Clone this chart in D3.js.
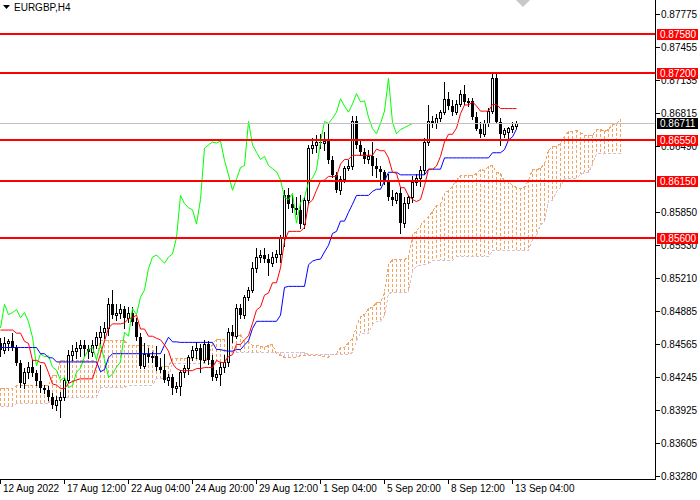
<!DOCTYPE html>
<html><head><meta charset="utf-8">
<script src="https://cdn.jsdelivr.net/npm/d3@7"></script>
<style>
body{margin:0;background:#fff}
svg{display:block}
text{font-family:"Liberation Sans",Arial,sans-serif;font-size:10px}
</style>
</head><body>
<svg id="c" width="700" height="500"></svg>
<script>
// ---------------- DATA (EURGBP, H4) ----------------
const symbol = "EURGBP,H4";
const open = [0.8457,0.8451,0.8457,0.8459,0.8453,0.8438,0.8418,0.8429,0.8434,0.8428,
0.8420,0.8414,0.8412,0.8405,0.8397,0.8402,0.8405,0.8421,0.8446,0.8450,
0.8453,0.8455,0.8452,0.8449,0.8455,0.8463,0.8468,0.8472,0.8495,0.8485,
0.8487,0.8490,0.8482,0.8487,0.8478,0.8463,0.8435,0.8447,0.8444,0.8445,
0.8434,0.8431,0.8421,0.8424,0.8414,0.8416,0.8429,0.8433,0.8444,0.8451,
0.8453,0.8441,0.8456,0.8441,0.8424,0.8427,0.8434,0.8439,0.8468,0.8464,
0.8491,0.8485,0.8502,0.8509,0.8530,0.8541,0.8543,0.8539,0.8535,0.8541,
0.8544,0.8560,0.8601,0.8593,0.8589,0.8587,0.8573,0.8597,0.8647,0.8650,
0.8653,0.8652,0.8654,0.8635,0.8621,0.8606,0.8617,0.8628,0.8630,0.8673,
0.8650,0.8643,0.8636,0.8639,0.8630,0.8627,0.8624,0.8616,0.8599,0.8597,
0.8603,0.8574,0.8594,0.8599,0.8614,0.8618,0.8626,0.8653,0.8673,0.8671,
0.8676,0.8682,0.8695,0.8688,0.8682,0.8690,0.8700,0.8692,0.8693,0.8677,
0.8666,0.8661,0.8671,0.8683,0.8715,0.8672,0.8661,0.8663,0.8666,0.8669];
const high = [0.8462,0.8463,0.8461,0.8467,0.8455,0.8441,0.8433,0.8439,0.8441,0.8431,
0.8436,0.8417,0.8416,0.8409,0.8406,0.8410,0.8423,0.8451,0.8455,0.8458,
0.8460,0.8460,0.8455,0.8460,0.8468,0.8474,0.8478,0.8501,0.8509,0.8495,
0.8495,0.8493,0.8492,0.8492,0.8482,0.8467,0.8457,0.8453,0.8449,0.8454,
0.8443,0.8447,0.8427,0.8427,0.8419,0.8431,0.8436,0.8446,0.8454,0.8458,
0.8456,0.8460,0.8459,0.8446,0.8431,0.8439,0.8446,0.8472,0.8475,0.8495,
0.8495,0.8504,0.8512,0.8536,0.8550,0.8548,0.8550,0.8544,0.8546,0.8548,
0.8562,0.8606,0.8608,0.8601,0.8599,0.8601,0.8599,0.8650,0.8657,0.8660,
0.8661,0.8663,0.8670,0.8639,0.8624,0.8620,0.8630,0.8635,0.8678,0.8678,
0.8655,0.8647,0.8645,0.8653,0.8637,0.8630,0.8626,0.8622,0.8606,0.8604,
0.8609,0.8599,0.8601,0.8620,0.8622,0.8630,0.8657,0.8689,0.8678,0.8680,
0.8684,0.8711,0.8702,0.8694,0.8694,0.8704,0.8708,0.8696,0.8696,0.8682,
0.8672,0.8674,0.8686,0.8721,0.8719,0.8676,0.8667,0.8668,0.8672,0.8673];
const low = [0.8445,0.8448,0.8451,0.8451,0.8436,0.8415,0.8414,0.8423,0.8425,0.8417,
0.8410,0.8409,0.8402,0.8394,0.8392,0.8385,0.8402,0.8419,0.8441,0.8443,
0.8445,0.8445,0.8443,0.8445,0.8453,0.8455,0.8462,0.8465,0.8482,0.8480,
0.8482,0.8472,0.8478,0.8475,0.8460,0.8433,0.8433,0.8439,0.8439,0.8431,
0.8429,0.8419,0.8417,0.8408,0.8410,0.8407,0.8424,0.8427,0.8441,0.8443,
0.8429,0.8439,0.8437,0.8421,0.8421,0.8417,0.8429,0.8435,0.8458,0.8462,
0.8482,0.8482,0.8499,0.8507,0.8526,0.8536,0.8536,0.8524,0.8532,0.8536,
0.8536,0.8552,0.8589,0.8585,0.8583,0.8569,0.8569,0.8593,0.8642,0.8643,
0.8647,0.8645,0.8633,0.8619,0.8604,0.8602,0.8614,0.8626,0.8627,0.8647,
0.8640,0.8633,0.8633,0.8621,0.8619,0.8611,0.8612,0.8597,0.8592,0.8594,
0.8564,0.8570,0.8589,0.8595,0.8611,0.8610,0.8622,0.8650,0.8668,0.8667,
0.8673,0.8680,0.8685,0.8679,0.8680,0.8688,0.8690,0.8688,0.8675,0.8665,
0.8658,0.8659,0.8669,0.8681,0.8672,0.8650,0.8658,0.8657,0.8663,0.8667];
const close = [0.8451,0.8457,0.8459,0.8453,0.8438,0.8418,0.8429,0.8434,0.8428,0.8420,
0.8414,0.8412,0.8405,0.8397,0.8402,0.8405,0.8421,0.8446,0.8450,0.8453,
0.8455,0.8452,0.8449,0.8455,0.8463,0.8468,0.8472,0.8495,0.8485,0.8487,
0.8490,0.8482,0.8487,0.8478,0.8463,0.8435,0.8447,0.8444,0.8445,0.8434,
0.8431,0.8421,0.8424,0.8414,0.8416,0.8429,0.8433,0.8444,0.8451,0.8453,
0.8441,0.8456,0.8441,0.8424,0.8427,0.8434,0.8439,0.8468,0.8464,0.8491,
0.8485,0.8502,0.8509,0.8530,0.8541,0.8543,0.8539,0.8535,0.8541,0.8544,
0.8560,0.8601,0.8593,0.8589,0.8587,0.8573,0.8597,0.8647,0.8650,0.8653,
0.8652,0.8654,0.8635,0.8621,0.8606,0.8617,0.8628,0.8630,0.8673,0.8650,
0.8643,0.8636,0.8639,0.8630,0.8627,0.8624,0.8616,0.8599,0.8597,0.8603,
0.8574,0.8594,0.8599,0.8614,0.8618,0.8626,0.8653,0.8673,0.8671,0.8676,
0.8682,0.8695,0.8688,0.8682,0.8690,0.8700,0.8692,0.8693,0.8677,0.8666,
0.8661,0.8671,0.8683,0.8715,0.8672,0.8661,0.8665,0.8667,0.8669,0.86711];

// Ichimoku values for bars whose window starts before the first shown bar
// (run-length: [value, number of bars])
const tenkanEarly = [[0.8470,4],[0.8467,2],[0.8459,1],[0.8457,1]];
const kijunEarly  = [[0.8453,10],[0.8447,2],[0.8443,2],[0.8439,11]];
const spanAEarly  = [[0.8414,4],[0.8417,9],[0.8426,2],[0.8441,10],[0.8460,7],[0.8455,7],[0.8435,4],[0.8443,8]];
const spanBEarly  = [[0.8396,4],[0.8399,9],[0.8405,12],[0.8415,7],[0.8417,7],[0.8423,4],[0.8438,14],[0.8449,20]];

const levels = [0.87580, 0.87200, 0.86550, 0.86150, 0.85600];
const lastPrice = 0.86711;
// visible price-scale labels (0.86170 is fully hidden under the 0.86150 level box in the reference)
const yTicks = [0.87775,0.87455,0.87135,0.86815,0.86490,0.85850,0.85530,0.85210,0.84885,0.84565,0.84245,0.83925,0.83605,0.83280];
const xTickBars = [0,16,32,48,64,80,96,112,128];
const xTickLabels = ["12 Aug 2022","17 Aug 12:00","22 Aug 04:00","24 Aug 20:00","29 Aug 12:00","1 Sep 04:00","5 Sep 20:00","8 Sep 12:00","13 Sep 04:00"];

// ---------------- INDICATORS ----------------
const N = close.length;
const expand = rle => rle.flatMap(([v,n]) => Array(n).fill(v));
const tE = expand(tenkanEarly), kE = expand(kijunEarly), aE = expand(spanAEarly), bE = expand(spanBEarly);
function mid(i, p){ const s = Math.max(0, i-p+1); return (d3.max(high.slice(s,i+1)) + d3.min(low.slice(s,i+1)))/2; }
const tenkan = d3.range(N).map(i => i < tE.length ? tE[i] : mid(i,9));
const kijun  = d3.range(N).map(i => i < kE.length ? kE[i] : mid(i,26));
const spanA = d3.range(N+26).map(j => j < aE.length ? aE[j] : (tenkan[j-26]+kijun[j-26])/2);
const spanB = d3.range(N+26).map(j => j < bE.length ? bE[j] : mid(j-26,52));
const chikou = d3.range(N-26).map(i => close[i+26]);

// ---------------- DRAW ----------------
const plotR = 655, plotB = 479;
const svg = d3.select('#c');
const x = d3.scaleLinear().domain([0,1]).range([0.5,4.5]);
const y = d3.scaleLinear().domain([0.83280,0.87775]).range([476,14]);

svg.append('defs').append('clipPath').attr('id','clip')
  .append('rect').attr('x',0).attr('y',0).attr('width',plotR).attr('height',plotB);
const g = svg.append('g').attr('clip-path','url(#clip)');

// cloud hatch
const SANDY = '#f4a460', THISTLE = '#d8bfd8';
g.append('g').selectAll('line').data(d3.range(N+26)).join('line')
  .attr('x1', j => x(j)).attr('x2', j => x(j))
  .attr('y1', j => Math.round(y(spanA[j]))).attr('y2', j => Math.round(y(spanB[j])))
  .attr('stroke', j => spanA[j] >= spanB[j] ? SANDY : THISTLE)
  .attr('stroke-width',1).attr('stroke-dasharray','3,2').attr('shape-rendering','crispEdges');

const line = arr => d3.line().x((d,i)=>x(i)).y(d=>Math.round(y(d))+0.5)(arr);
g.append('path').attr('d', line(spanA)).attr('fill','none').attr('stroke',SANDY).attr('stroke-dasharray','3,2').attr('shape-rendering','crispEdges');
g.append('path').attr('d', line(spanB)).attr('fill','none').attr('stroke',THISTLE).attr('stroke-dasharray','3,2').attr('shape-rendering','crispEdges');

// candles
const cg = g.append('g');
d3.range(N).forEach(i => {
  const o = open[i], c = close[i];
  const xc = x(i);
  cg.append('line').attr('x1',xc).attr('x2',xc)
    .attr('y1', Math.round(y(high[i]))).attr('y2', Math.round(y(low[i]))+1)
    .attr('stroke','#000').attr('shape-rendering','crispEdges');
  const top = Math.round(y(Math.max(o,c))), bot = Math.round(y(Math.min(o,c)));
  if (c > o) {
    cg.append('rect').attr('x', xc-1).attr('y', top+0.5).attr('width',2).attr('height', Math.max(bot-top,1))
      .attr('fill','#fff').attr('stroke','#000').attr('shape-rendering','crispEdges');
  } else {
    cg.append('rect').attr('x', xc-1.5).attr('y', top).attr('width',3).attr('height', Math.max(bot-top,1))
      .attr('fill','#000').attr('shape-rendering','crispEdges');
  }
});

// ichimoku lines
const lineXY = arr => d3.line().x((d,i)=>x(i)).y(d=>y(d))(arr);
g.append('path').attr('d', lineXY(chikou)).attr('fill','none').attr('stroke','#00ff00').attr('stroke-width',1);
g.append('path').attr('d', lineXY(kijun)).attr('fill','none').attr('stroke','#0000ff').attr('stroke-width',1);
g.append('path').attr('d', lineXY(tenkan)).attr('fill','none').attr('stroke','#ff0000').attr('stroke-width',1);

// last price line
g.append('line').attr('x1',0).attr('x2',plotR).attr('y1',Math.round(y(lastPrice))+0.5).attr('y2',Math.round(y(lastPrice))+0.5)
  .attr('stroke','#c0c0c0').attr('shape-rendering','crispEdges');

// horizontal levels
g.selectAll('.lvl').data(levels).join('line').attr('class','lvl')
  .attr('x1',0).attr('x2',plotR).attr('y1',d=>Math.round(y(d))).attr('y2',d=>Math.round(y(d)))
  .attr('stroke','#ff0000').attr('stroke-width',2).attr('shape-rendering','crispEdges');

// axes frame
svg.append('line').attr('x1',plotR+0.5).attr('x2',plotR+0.5).attr('y1',0).attr('y2',plotB+1).attr('stroke','#000').attr('shape-rendering','crispEdges');
svg.append('line').attr('x1',0).attr('x2',plotR+1).attr('y1',plotB+0.5).attr('y2',plotB+0.5).attr('stroke','#000').attr('shape-rendering','crispEdges');

// y ticks
const yt = svg.append('g');
yTicks.forEach(v => {
  const yy = Math.round(y(v))+0.5;
  yt.append('line').attr('x1',plotR).attr('x2',plotR+5).attr('y1',yy).attr('y2',yy).attr('stroke','#000').attr('shape-rendering','crispEdges');
  yt.append('text').attr('x',plotR+6).attr('y',yy+3.5).attr('fill','#000').text(d3.format('.5f')(v));
});

// level labels
levels.forEach(v => {
  const yy = Math.round(y(v));
  svg.append('rect').attr('x',plotR+2).attr('y',yy-5).attr('width',41).attr('height',11).attr('fill','#ff0000');
  svg.append('text').attr('x',plotR+5).attr('y',yy+4).attr('fill','#fff').text(d3.format('.5f')(v));
});
{
  const yy = Math.round(y(lastPrice));
  svg.append('rect').attr('x',plotR+2).attr('y',yy-5).attr('width',41).attr('height',11).attr('fill','#000');
  svg.append('text').attr('x',plotR+5).attr('y',yy+4).attr('fill','#fff').text(d3.format('.5f')(lastPrice));
}

// x ticks
xTickBars.forEach((b,k) => {
  const xx = x(b);
  svg.append('line').attr('x1',xx).attr('x2',xx).attr('y1',plotB).attr('y2',plotB+5).attr('stroke','#000').attr('shape-rendering','crispEdges');
  svg.append('text').attr('x',xx+2.5).attr('y',plotB+13).attr('fill','#000').text(xTickLabels[k]);
});

// title
svg.append('path').attr('d','M3,5 L10,5 L6.5,9 Z').attr('fill','#000');
svg.append('text').attr('x',14).attr('y',11).attr('fill','#000').text(symbol);
// small grey marker top
svg.append('path').attr('d','M516,0 L530,0 L523,7 Z').attr('fill','#c8c8c8');
</script>
</body></html>
